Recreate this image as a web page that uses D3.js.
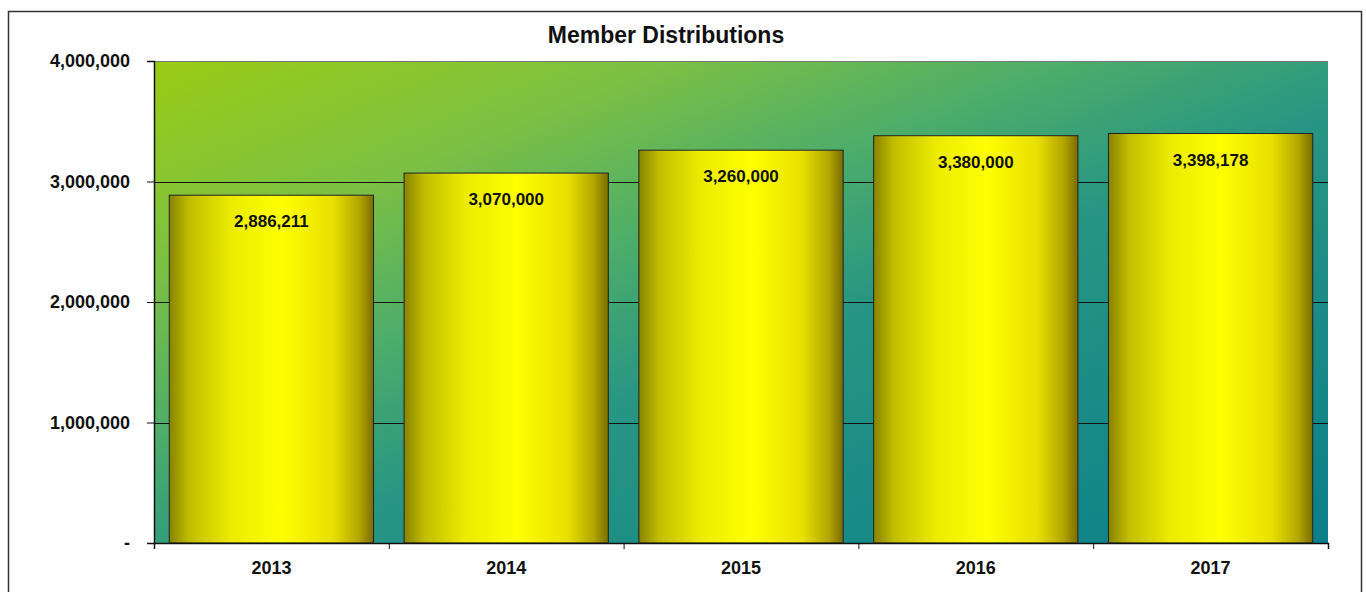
<!DOCTYPE html>
<html>
<head>
<meta charset="utf-8">
<script src="https://cdn.jsdelivr.net/npm/d3@7"></script>
<style>
  body { margin: 0; background: #fff; }
  text { font-family: "Liberation Sans", Arial, sans-serif; font-weight: bold; fill: #111; }
</style>
</head>
<body>
<svg id="chart" width="1366" height="592"></svg>
<script>
const years = ["2013", "2014", "2015", "2016", "2017"];
const members = [2886211, 3070000, 3260000, 3380000, 3398178];
const yTicks = [0, 1000000, 2000000, 3000000, 4000000];
const title = "Member Distributions";

const svg = d3.select("#chart");
const margin = {top: 61, right: 38, bottom: 49, left: 154};
const width = 1366 - margin.left - margin.right,
      height = 592 - margin.top - margin.bottom;

// outer frame of the chart
svg.append("rect")
    .attr("x", 8.5).attr("y", 11.5)
    .attr("width", 1353).attr("height", 600)
    .attr("fill", "#fff")
    .attr("stroke", "#333").attr("stroke-width", 1.5);

const defs = svg.append("defs");

// plot background: lime in the top-left going to teal
const bg = defs.append("linearGradient").attr("id", "bg")
    .attr("x1", 0).attr("y1", 0).attr("x2", 1).attr("y2", 1);
[["0", "#9acc14"], ["0.22", "#7cc044"], ["0.38", "#4fae68"], ["0.55", "#289683"], ["1", "#0a7f8a"]]
    .forEach(s => bg.append("stop").attr("offset", s[0]).attr("stop-color", s[1]));

// bar fill: dark olive edges, bright yellow middle
const bar = defs.append("linearGradient").attr("id", "barfill")
    .attr("x1", 0).attr("y1", 0).attr("x2", 1).attr("y2", 0);
[["0", "#878300"], ["0.1", "#c2be00"], ["0.3", "#ebeb00"], ["0.55", "#ffff00"], ["0.8", "#e8e000"], ["0.93", "#b2a600"], ["1", "#7a6c00"]]
    .forEach(s => bar.append("stop").attr("offset", s[0]).attr("stop-color", s[1]));

const g = svg.append("g")
    .attr("transform", "translate(" + margin.left + "," + margin.top + ")");

const x = d3.scaleBand().domain(years).range([0, width]).paddingInner(0.13).paddingOuter(0.065);
const xTickScale = d3.scaleLinear().domain([0, years.length]).range([0, width]);
const y = d3.scaleLinear().domain([0, 4000000]).range([height, 0]);

g.append("rect")
    .attr("width", width).attr("height", height)
    .attr("fill", "url(#bg)");

// gridlines
g.append("g")
    .selectAll("line")
    .data(yTicks.slice(1))
    .join("line")
    .attr("x1", 0).attr("x2", width)
    .attr("y1", d => Math.round(y(d)) + 0.5).attr("y2", d => Math.round(y(d)) + 0.5)
    .attr("stroke", d => d === 4000000 ? "#777" : "#111")
    .attr("stroke-width", 1.2);

// bars
g.append("g")
    .selectAll("rect")
    .data(members)
    .join("rect")
    .attr("x", (d, i) => x(years[i]))
    .attr("y", d => y(d))
    .attr("width", x.bandwidth())
    .attr("height", d => height - y(d))
    .attr("fill", "url(#barfill)")
    .attr("stroke", "#222").attr("stroke-width", 1);

// value labels
const fmt = d3.format(",");
g.append("g")
    .selectAll("text")
    .data(members)
    .join("text")
    .attr("x", (d, i) => x(years[i]) + x.bandwidth() / 2)
    .attr("y", d => y(d) + 32)
    .attr("text-anchor", "middle")
    .style("font-size", "17px")
    .text(d => fmt(d));

// y axis
const yAxis = g.append("g")
    .call(d3.axisLeft(y)
        .tickValues(yTicks)
        .tickSize(7)
        .tickPadding(17)
        .tickFormat(d => d === 0 ? "-" : fmt(d)));
yAxis.select(".domain").attr("stroke", "#111").attr("stroke-width", 1.5);
yAxis.selectAll(".tick line").attr("stroke", "#111");
yAxis.selectAll(".tick text").style("font-size", "18px").attr("fill", "#111");

// x axis, ticks between categories
const xAxis = g.append("g")
    .attr("transform", "translate(0," + height + ")")
    .call(d3.axisBottom(xTickScale).ticks(5).tickSize(6).tickFormat(""));
xAxis.select(".domain").attr("stroke", "#111").attr("stroke-width", 1.5);
xAxis.selectAll(".tick line").attr("stroke", "#111");

g.append("g")
    .selectAll("text")
    .data(years)
    .join("text")
    .attr("x", d => x(d) + x.bandwidth() / 2)
    .attr("y", height + 31)
    .attr("text-anchor", "middle")
    .style("font-size", "18px")
    .text(d => d);

svg.append("text")
    .attr("x", 666).attr("y", 43)
    .attr("text-anchor", "middle")
    .style("font-size", "23px")
    .text(title);
</script>
</body>
</html>
